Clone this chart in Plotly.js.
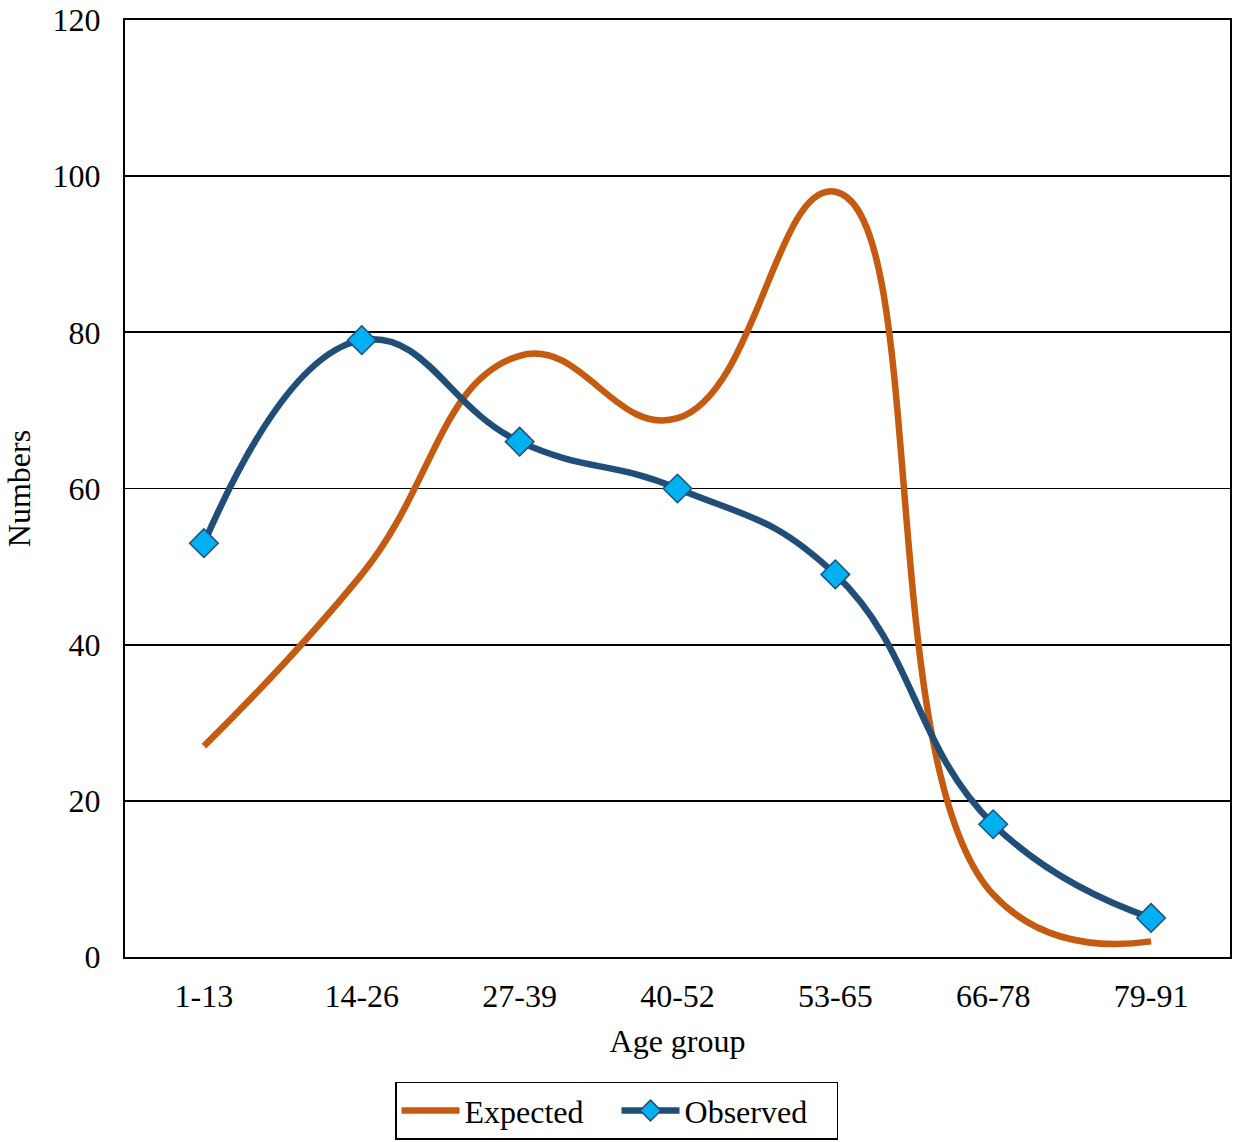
<!DOCTYPE html>
<html>
<head>
<meta charset="utf-8">
<script src="https://cdn.plot.ly/plotly-3.0.1.min.js"></script>
<style>html,body{margin:0;padding:0;background:#fff;}#chart{width:1237px;height:1142px;}</style>
</head>
<body>
<div id="chart"></div>
<script>
const categories = ["1-13", "14-26", "27-39", "40-52", "53-65", "66-78", "79-91"];
const expected = [27, 49, 77, 69, 98, 8, 2];
const observed = [53, 79, 66, 60, 49, 17, 5];

const font = "Liberation Serif, Times New Roman, serif";

const traces = [
  {
    x: categories, y: expected, name: "Expected", type: "scatter", mode: "lines",
    line: {color: "#C55A11", width: 6.5, shape: "spline", smoothing: 1.3}
  },
  {
    x: categories, y: observed, name: "Observed", type: "scatter", mode: "lines+markers",
    line: {color: "#1F4E79", width: 6.5, shape: "spline", smoothing: 1.3},
    marker: {symbol: "diamond", size: 22, color: "#00B0F0", line: {color: "#1F4E79", width: 1.5}}
  }
];

const layout = {
  width: 1237, height: 1142,
  margin: {l: 125, r: 7, t: 20, b: 185, autoexpand: false},
  paper_bgcolor: "#fff", plot_bgcolor: "#fff",
  font: {family: font, size: 32, color: "#000"},
  showlegend: true,
  legend: {
    orientation: "h", xref: "container", yref: "container",
    x: 0.4984, xanchor: "center", y: 0.002, yanchor: "bottom",
    bordercolor: "#000", borderwidth: 1.5, font: {family: font, size: 32, color: "#000"},
    itemwidth: 58, entrywidth: 147, tracegroupgap: 0
  },
  xaxis: {
    type: "category", range: [-0.5, 6.5],
    showline: true, linecolor: "#000", linewidth: 2, mirror: true,
    showgrid: false, ticks: "", ticklabelstandoff: 10, automargin: false,
    tickfont: {family: font, size: 32, color: "#000"},
    title: {text: "Age group", font: {family: font, size: 32, color: "#000"}, standoff: 16}
  },
  yaxis: {
    range: [0, 120], dtick: 20,
    showline: true, linecolor: "#000", linewidth: 2, mirror: true,
    showgrid: true, gridcolor: "#000", gridwidth: 1.8, zeroline: false, ticks: "",
    ticklabelstandoff: 16, automargin: true,
    tickfont: {family: font, size: 32, color: "#000"},
    title: {text: "Numbers", font: {family: font, size: 32, color: "#000"}, standoff: 12}
  }
};

Plotly.newPlot("chart", traces, layout, {displayModeBar: false, staticPlot: true});
</script>
</body>
</html>
